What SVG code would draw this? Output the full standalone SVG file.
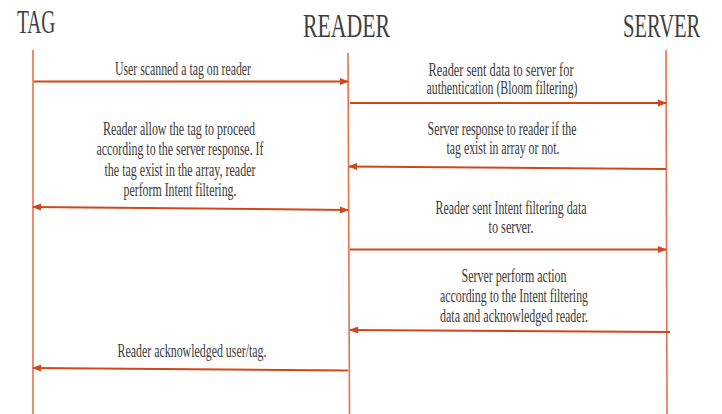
<svg xmlns="http://www.w3.org/2000/svg" width="722" height="414" viewBox="0 0 722 414">
  <defs>
    <marker id="head" markerWidth="9" markerHeight="8" refX="8" refY="4" orient="auto-start-reverse" markerUnits="userSpaceOnUse">
      <path d="M0,0.5 L9,4 L0,7.5 Z" fill="#D0481A"/>
    </marker>
    <style>
      .title { font-family: "Liberation Serif", serif; font-size: 34px; fill: #3f3f3f; }
      .label { font-family: "Liberation Serif", serif; font-size: 18px; fill: #3a3a3a; text-anchor: middle; }
      .life { stroke: #E5724B; stroke-width: 1.6; fill: none; }
      .msg { stroke: #D0481A; stroke-width: 2; fill: none; }
    </style>
  </defs>
  <rect width="722" height="414" fill="#ffffff"/>

  <!-- participants with their lifelines -->
  <g id="tag">
    <text class="title" transform="translate(17,33) scale(0.572,1)">TAG</text>
    <line class="life" x1="33" y1="50" x2="33" y2="414"/>
  </g>
  <g id="reader">
    <text class="title" transform="translate(303,37) scale(0.64,1)">READER</text>
    <line class="life" x1="348" y1="53" x2="349.5" y2="414"/>
  </g>
  <g id="server">
    <text class="title" transform="translate(623,37) scale(0.606,1)">SERVER</text>
    <line class="life" x1="666" y1="50" x2="667" y2="414"/>
  </g>

  <!-- messages -->
  <g id="connectors">
    <line class="msg" x1="34" y1="81.5" x2="348" y2="81.5" marker-end="url(#head)"/>
    <line class="msg" x1="350" y1="103" x2="666" y2="103" marker-end="url(#head)"/>
    <line class="msg" x1="666" y1="169" x2="349" y2="166.5" marker-end="url(#head)"/>
    <line class="msg" x1="33" y1="207" x2="348" y2="210" marker-start="url(#head)" marker-end="url(#head)"/>
    <line class="msg" x1="350" y1="249.5" x2="666" y2="249.5" marker-end="url(#head)"/>
    <line class="msg" x1="670" y1="332" x2="350" y2="330" marker-end="url(#head)"/>
    <line class="msg" x1="348" y1="370.5" x2="33" y2="368" marker-end="url(#head)"/>
  </g>

  <!-- message labels -->
  <g id="labels">
    <text class="label" x="183" y="75" textLength="136" lengthAdjust="spacingAndGlyphs">User scanned a tag on reader</text>

    <text class="label" x="501" y="76" textLength="145" lengthAdjust="spacingAndGlyphs">Reader sent data to server for</text>
    <text class="label" x="502" y="94" textLength="151" lengthAdjust="spacingAndGlyphs">authentication (Bloom filtering)</text>

    <text class="label" x="502" y="135" textLength="149" lengthAdjust="spacingAndGlyphs">Server response to reader if the</text>
    <text class="label" x="503" y="154" textLength="113" lengthAdjust="spacingAndGlyphs">tag exist in array or not.</text>

    <text class="label" x="179" y="135" textLength="152" lengthAdjust="spacingAndGlyphs">Reader allow the tag to proceed</text>
    <text class="label" x="180" y="155" textLength="167" lengthAdjust="spacingAndGlyphs">according to the server response. If</text>
    <text class="label" x="180" y="176" textLength="151" lengthAdjust="spacingAndGlyphs">the tag exist in the array, reader</text>
    <text class="label" x="180" y="196" textLength="113" lengthAdjust="spacingAndGlyphs">perform Intent filtering.</text>

    <text class="label" x="511" y="214" textLength="151" lengthAdjust="spacingAndGlyphs">Reader sent Intent filtering data</text>
    <text class="label" x="511" y="233" textLength="45" lengthAdjust="spacingAndGlyphs">to server.</text>

    <text class="label" x="514" y="282" textLength="105" lengthAdjust="spacingAndGlyphs">Server perform action</text>
    <text class="label" x="514" y="302" textLength="148" lengthAdjust="spacingAndGlyphs">according to the Intent filtering</text>
    <text class="label" x="514" y="322" textLength="148" lengthAdjust="spacingAndGlyphs">data and acknowledged reader.</text>

    <text class="label" x="192" y="357" textLength="149" lengthAdjust="spacingAndGlyphs">Reader acknowledged user/tag.</text>
  </g>
</svg>
